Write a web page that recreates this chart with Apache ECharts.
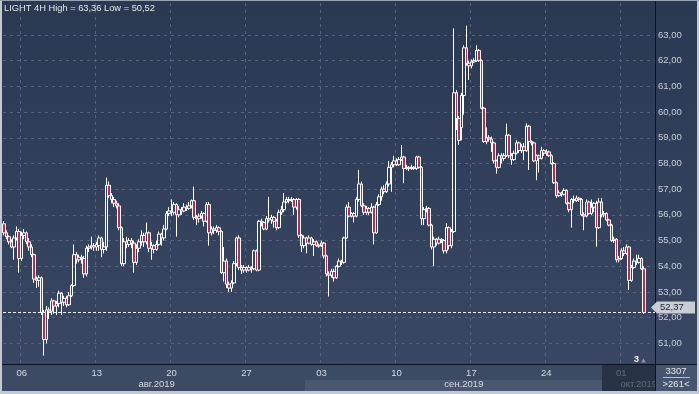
<!DOCTYPE html>
<html><head><meta charset="utf-8">
<script src="https://cdn.jsdelivr.net/npm/echarts@6/dist/echarts.min.js"></script>
<style>html,body{margin:0;padding:0;background:#2f3c56;}#c{width:699px;height:394px;}</style>
</head><body><div id="c"></div>
<script>
const titleText = 'LIGHT 4H High = 63,36 Low = 50,52';
const slotCount = 261;
const categories = Array.from({length: slotCount}, (_, i) => 'bar' + i);
const dayTicks = [[7,'06'],[37,'13'],[67,'20'],[97,'27'],[127,'03'],[157,'10'],[187,'17'],[217,'24'],[247,'01']];
const monthTicks = [[61,'авг.2019'],[184,'сен.2019'],[254,'окт.2019']];
const lastPriceLabel = '52,37';
const barsTotal = '3307';
const barsVisible = '>261<';
const shiftLabel = '3';
// [open, close, low, high]
const candles = [
[55.65,55.30,55.20,55.75],[55.30,55.15,55.05,55.40],[55.15,54.95,54.85,55.20],[54.95,54.75,54.70,55.05],[54.75,55.10,54.25,55.20],
[55.10,55.35,55.00,55.55],[55.35,54.30,53.75,55.45],[54.30,55.20,54.20,55.35],[55.20,55.30,55.05,55.45],[55.30,54.95,54.85,55.35],
[54.95,54.75,54.60,55.10],[54.75,54.45,54.35,54.85],[54.45,53.50,53.35,54.50],[53.50,53.45,53.15,53.60],[53.45,53.55,53.20,53.65],
[53.55,52.20,52.10,53.60],[52.20,51.15,50.52,52.30],[51.15,52.30,51.00,52.45],[52.30,52.25,51.95,52.40],[52.25,52.65,52.10,52.75],
[52.65,52.45,52.15,52.70],[52.45,52.55,52.10,52.65],[52.55,52.95,52.40,53.05],[52.95,52.60,52.10,53.00],[52.60,52.75,52.45,52.85],
[52.75,52.50,52.40,52.85],[52.50,52.85,52.45,53.00],[52.85,53.25,52.80,53.30],[53.25,54.45,53.20,54.85],[54.45,54.25,54.10,54.55],
[54.25,54.35,54.15,54.45],[54.35,54.30,54.10,54.45],[54.30,53.70,53.55,54.40],[53.70,54.70,53.60,54.80],[54.70,54.75,54.55,54.85],
[54.75,54.80,54.65,55.15],[54.80,54.75,54.60,54.90],[54.75,54.85,54.60,54.95],[54.80,55.10,54.60,55.20],[55.10,54.65,54.35,55.15],
[54.65,54.75,54.50,54.95],[54.75,57.15,54.60,57.45],[57.15,56.75,56.65,57.30],[56.75,56.60,56.45,56.85],[56.60,56.45,56.30,56.70],
[56.45,56.35,56.25,56.55],[56.35,55.50,55.40,56.45],[55.50,54.10,54.00,55.55],[54.10,54.95,54.00,55.10],[54.95,54.85,54.70,55.15],
[54.85,55.00,54.75,55.10],[55.00,54.90,54.70,55.10],[54.90,54.15,53.75,55.00],[54.15,54.70,54.05,54.85],[54.70,54.95,54.55,55.05],
[54.95,55.20,54.80,55.40],[55.20,54.95,54.75,55.30],[54.95,55.30,54.85,55.70],[55.30,54.70,54.55,55.35],[54.70,54.80,54.25,54.95],
[54.80,54.65,54.50,54.85],[54.65,54.85,54.60,55.00],[54.85,55.25,54.80,55.35],[55.25,55.10,54.80,55.30],[55.10,55.45,55.00,55.60],
[55.45,56.05,55.40,56.15],[56.05,56.15,55.95,56.30],[56.15,56.10,55.95,56.60],[56.10,56.40,56.00,56.50],[56.40,56.00,55.15,56.45],
[56.00,56.20,55.90,56.35],[56.20,56.15,56.00,56.30],[56.15,56.30,56.10,56.45],[56.30,56.25,56.15,56.40],[56.25,56.35,56.20,56.50],
[56.35,56.55,56.25,56.60],[56.55,55.90,55.80,57.10],[55.90,55.85,55.60,56.00],[55.85,55.95,55.70,56.05],[55.95,56.05,55.85,56.15],
[56.05,55.75,55.55,56.10],[55.75,56.40,55.70,56.50],[56.40,55.30,54.80,56.50],[55.30,55.45,55.20,55.55],[55.45,55.40,55.25,55.55],
[55.40,55.50,55.30,55.60],[55.50,55.35,55.20,55.55],[55.35,53.75,53.70,55.40],[53.75,54.20,53.40,54.75],[54.20,53.30,53.15,54.30],
[53.30,53.15,53.00,53.40],[53.15,53.35,53.00,53.45],[53.35,54.10,53.30,54.20],[54.10,55.10,54.00,55.15],[55.10,53.95,53.85,55.20],
[53.95,53.85,53.70,54.05],[53.85,53.95,53.75,54.05],[53.95,53.85,53.75,54.00],[53.85,53.95,53.80,54.05],[53.95,53.90,53.75,54.00],
[53.90,54.60,53.85,54.65],[54.60,53.85,53.80,54.65],[53.85,55.75,53.80,55.80],[55.75,55.70,55.55,55.85],[55.70,55.45,55.40,55.75],
[55.45,55.85,55.40,55.95],[55.85,55.80,55.70,56.70],[55.80,55.90,55.65,56.00],[55.90,55.75,55.50,55.95],[55.75,55.50,55.40,55.85],
[55.50,56.10,55.45,56.20],[56.10,56.20,56.00,56.35],[56.20,56.50,56.10,56.85],[56.50,56.60,56.45,56.70],[56.60,56.55,56.45,56.70],
[56.55,56.60,56.50,56.70],[56.60,56.30,56.00,56.65],[56.30,56.60,56.20,56.65],[56.60,55.20,55.10,56.65],[55.20,54.80,54.55,55.25],
[54.80,55.10,54.70,55.20],[55.10,54.90,54.50,55.15],[54.90,55.10,54.85,55.20],[55.10,54.85,54.80,55.15],[54.85,54.95,54.40,55.05],
[54.95,54.80,54.75,55.00],[54.78,54.82,54.72,54.88],[54.82,54.90,54.75,55.00],[54.90,54.40,54.30,54.95],[54.40,53.70,53.60,54.45],
[53.70,53.65,52.82,53.80],[53.65,53.80,53.55,53.90],[53.80,53.55,53.40,53.90],[53.55,54.00,53.50,54.05],[54.00,54.20,53.95,54.30],
[54.20,54.15,54.05,54.25],[54.15,55.10,54.10,55.15],[55.10,56.30,55.05,56.40],[56.30,55.95,55.90,56.50],[55.95,56.05,55.90,56.10],
[56.05,55.95,55.70,56.10],[55.95,56.60,55.90,56.70],[56.60,57.20,56.50,57.75],[57.20,56.35,56.30,57.30],[56.35,56.10,56.00,56.45],
[56.10,56.25,56.00,56.35],[56.25,56.10,56.00,56.30],[56.10,56.30,56.05,56.45],[56.30,55.30,54.85,56.35],[55.30,56.40,55.25,56.50],
[56.40,56.70,56.35,56.80],[56.70,57.00,56.55,57.10],[57.00,56.90,56.80,57.15],[56.90,57.20,56.85,57.30],[57.20,57.85,57.10,58.10],
[57.85,57.95,56.90,58.05],[57.95,58.10,57.85,58.30],[58.10,57.95,57.90,58.20],[57.95,58.15,57.90,58.25],[58.15,58.25,58.10,58.72],
[58.25,57.80,57.23,58.30],[57.80,57.85,57.75,57.95],[57.85,57.80,57.70,57.90],[57.80,57.85,57.75,57.95],[57.85,57.80,57.75,57.90],
[57.80,58.25,57.75,58.30],[58.25,57.85,57.80,58.30],[57.85,55.85,55.60,57.90],[55.85,56.20,55.60,56.30],[56.20,56.25,56.10,56.35],
[56.25,55.60,55.55,56.30],[55.60,54.75,54.65,55.65],[54.75,55.05,54.00,55.15],[55.05,54.90,54.80,55.10],[54.90,55.05,54.85,55.15],
[55.05,55.00,54.90,55.10],[55.00,54.60,54.50,55.05],[54.60,55.50,54.50,55.68],[55.50,54.80,54.65,55.55],[54.80,55.35,54.70,55.45],
[55.35,60.75,55.30,63.26],[60.75,59.75,59.30,60.85],[59.75,58.90,58.72,59.85],[59.40,60.65,58.90,60.75],[60.65,62.50,59.90,62.60],
[62.50,61.90,61.80,63.36],[61.90,61.80,61.25,62.00],[61.80,61.95,61.70,62.05],[61.95,62.00,61.90,62.10],[62.00,62.40,61.95,62.60],
[62.40,62.00,61.95,62.45],[62.00,60.15,60.10,62.05],[60.15,58.85,58.80,60.20],[58.85,59.00,58.75,59.40],[59.00,58.95,58.85,59.10],
[58.95,58.80,58.45,59.05],[58.80,58.10,58.00,58.85],[58.10,57.85,57.60,58.15],[57.85,58.30,57.80,58.40],[58.30,58.20,58.00,58.40],
[58.20,58.30,58.10,58.40],[58.30,59.10,58.25,59.55],[59.10,58.30,58.20,59.15],[58.30,58.15,57.95,58.40],[58.15,58.40,58.10,58.50],
[58.40,58.80,58.35,58.90],[58.80,58.50,58.40,58.85],[58.50,58.65,58.40,58.75],[58.65,58.50,58.13,58.80],[58.50,59.45,58.45,59.56],
[59.45,58.85,57.75,59.50],[58.85,58.80,58.70,58.90],[58.80,58.10,58.05,58.85],[58.10,58.30,57.35,58.35],[58.30,58.20,57.65,58.35],
[58.20,58.50,58.15,58.65],[58.50,58.40,58.30,58.55],[58.40,58.45,58.30,58.55],[58.45,58.30,58.25,58.50],[58.30,58.00,57.95,58.35],
[58.00,57.25,57.20,58.05],[57.25,56.75,56.65,57.30],[56.75,56.85,56.70,56.95],[56.85,56.80,56.70,56.90],[56.80,56.95,56.75,57.03],
[56.95,56.45,56.40,57.00],[56.45,56.20,56.10,56.50],[56.20,56.60,55.50,56.65],[56.60,56.55,56.45,56.75],[56.55,56.65,56.50,56.75],
[56.65,56.60,56.50,56.70],[56.60,56.00,55.95,56.65],[56.00,55.95,55.40,56.10],[55.95,56.50,55.90,56.60],[56.50,56.05,56.00,56.55],
[56.05,56.30,56.00,56.60],[56.30,56.45,56.10,56.50],[56.45,55.50,54.76,56.55],[55.50,56.50,55.45,56.65],[56.50,56.00,55.90,56.65],
[56.00,56.05,55.90,56.15],[56.05,55.80,55.75,56.10],[55.80,55.60,55.55,55.85],[55.60,55.00,54.95,55.65],[55.00,55.05,54.90,55.15],
[55.05,54.25,54.15,55.10],[54.25,54.30,54.15,54.40],[54.30,54.60,54.25,54.70],[54.60,54.50,54.40,54.75],[54.50,54.75,54.45,54.85],
[54.75,53.45,53.07,54.80],[53.45,53.95,53.40,54.05],[53.95,54.20,53.90,54.30],[54.20,54.15,54.05,54.45],[54.15,54.30,54.10,54.45],
[54.30,53.90,53.85,54.35],[53.90,52.20,52.15,54.00]
];
const lastClose = candles[candles.length - 1][1];

const font = "'Liberation Sans', Arial, sans-serif";
const dayMap = new Map(dayTicks);
const monthMap = new Map(monthTicks);
const gridLineColor = '#56647f';
const ySplitColors = Array.from({length: 16}, (_, i) => (i === 0 || i >= 14) ? 'rgba(0,0,0,0)' : gridLineColor);

const chart = echarts.init(document.getElementById('c'), null, {renderer: 'canvas', width: 699, height: 394});

const baseX = {type: 'category', data: categories, gridIndex: 0, min: 0, max: slotCount - 1, boundaryGap: true,
  axisLine: {show: false}, axisTick: {show: false}};

const option = {
  animation: false,
  backgroundColor: {type: 'linear', x: 0, y: 0, x2: 0, y2: 1,
    colorStops: [{offset: 0, color: '#2b3852'}, {offset: 1, color: '#3a4865'}]},
  title: {text: titleText, left: 4, top: 4, padding: 0,
    textStyle: {color: '#e4e7ec', fontSize: 9.3, fontWeight: 'normal', fontFamily: font}},
  grid: {left: 3, right: 44, top: 3, bottom: 25, containLabel: false, outerBoundsMode: 'none'},
  xAxis: [
    Object.assign({}, baseX, {
      position: 'bottom',
      axisLabel: {show: false},
      splitLine: {show: true, interval: (i) => dayMap.has(i),
        lineStyle: {color: gridLineColor, width: 1, type: [3, 4]}}
    }),
    Object.assign({}, baseX, {
      position: 'bottom', offset: -3, z: 10,
      splitLine: {show: false},
      axisLabel: {show: true, interval: (i) => dayMap.has(i), formatter: (v, i) => dayMap.get(i) || '',
        color: '#d6dae2', fontSize: 9.5, fontFamily: font, margin: 2}
    }),
    Object.assign({}, baseX, {
      position: 'bottom', offset: 8, z: 10,
      splitLine: {show: false},
      axisLabel: {show: true, interval: (i) => monthMap.has(i), formatter: (v, i) => monthMap.get(i) || '',
        color: '#d6dae2', fontSize: 9.5, fontFamily: font, margin: 2}
    })
  ],
  yAxis: {
    type: 'value', position: 'right', min: 50, max: 64.245, interval: 1, scale: true,
    axisLine: {show: false}, axisTick: {show: false},
    axisLabel: {color: '#c9ced8', fontSize: 9.5, fontFamily: font, margin: 3,
      formatter: (v) => (v <= 50 || v >= 64) ? '' : v.toFixed(2).replace('.', ',')},
    splitLine: {show: true, lineStyle: {color: ySplitColors, width: 1, type: [3, 4]}}
  },
  series: [{
    type: 'candlestick', xAxisIndex: 0, yAxisIndex: 0,
    data: candles, barWidth: 3,
    itemStyle: {color: 'rgba(0,0,0,0)', color0: '#b02e55', borderColor: '#ffffff', borderColor0: '#ffffff', borderWidth: 1},
    markLine: {
      silent: true, symbol: ['none', 'none'], animation: false,
      lineStyle: {color: '#eeeeee', width: 1, type: [3, 2]},
      label: {show: false},
      data: [{yAxis: lastClose}]
    }
  }]
};
chart.setOption(option);

const yLast = chart.convertToPixel({yAxisIndex: 0}, lastClose);
const tagY = yLast - 5;
chart.setOption({
  graphic: [
    {type: 'rect', z: 3, silent: true, shape: {x: 0, y: 365, width: 655, height: 27}, style: {fill: '#3d4a64'}},
    {type: 'rect', z: 4, silent: true, shape: {x: 305, y: 380, width: 297, height: 11}, style: {fill: '#4a5771'}},
    {type: 'rect', z: 20, silent: true, shape: {x: 602, y: 365, width: 53, height: 26}, style: {fill: 'rgba(28,36,54,0.62)'}},
    {type: 'rect', z: 21, silent: true, shape: {x: 655, y: 365, width: 44, height: 27}, style: {fill: '#47546f'}},
    {type: 'text', z: 22, silent: true, style: {text: barsTotal, x: 676, y: 371.5, fill: '#e4e7ec', font: '9.5px ' + font, textAlign: 'center', textVerticalAlign: 'middle'}},
    {type: 'line', z: 22, silent: true, shape: {x1: 663, y1: 377.5, x2: 690, y2: 377.5}, style: {stroke: '#b8bfcc', lineWidth: 1}},
    {type: 'text', z: 22, silent: true, style: {text: barsVisible, x: 676, y: 384.5, fill: '#e4e7ec', font: '9.5px ' + font, textAlign: 'center', textVerticalAlign: 'middle'}},
    {type: 'text', z: 22, silent: true, style: {text: shiftLabel, x: 636.5, y: 359.5, fill: '#f0f0f0', font: 'bold 9.5px ' + font, textAlign: 'center', textVerticalAlign: 'middle'}},
    {type: 'polygon', z: 22, silent: true, shape: {points: [[641, 362.5], [643.5, 358.5], [646, 362.5]]}, style: {fill: '#8a93a5'}},
    {type: 'line', z: 23, silent: true, shape: {x1: 655.5, y1: 0, x2: 655.5, y2: 392}, style: {stroke: '#0d1220', lineWidth: 1}},
    {type: 'line', z: 23, silent: true, shape: {x1: 0, y1: 364.5, x2: 699, y2: 364.5}, style: {stroke: '#0d1220', lineWidth: 1}},
    {type: 'polygon', z: 24, silent: true, shape: {points: [[651, tagY], [657, tagY - 6], [695, tagY - 6], [695, tagY + 6], [657, tagY + 6]]}, style: {fill: '#c8cdd6'}},
    {type: 'text', z: 25, silent: true, style: {text: lastPriceLabel, x: 660, y: tagY, fill: '#1b1f28', font: '9.5px ' + font, textVerticalAlign: 'middle'}},
    {type: 'rect', z: 30, silent: true, shape: {x: 0, y: 0, width: 2, height: 394}, style: {fill: '#c3c9d3'}},
    {type: 'rect', z: 30, silent: true, shape: {x: 697, y: 0, width: 2, height: 394}, style: {fill: '#c3c9d3'}},
    {type: 'rect', z: 30, silent: true, shape: {x: 0, y: 391, width: 699, height: 3}, style: {fill: '#c3c9d3'}},
    {type: 'rect', z: 30, silent: true, shape: {x: 0, y: 0, width: 699, height: 1}, style: {fill: '#9aa3b3'}}
  ]
});
</script>
</body></html>
